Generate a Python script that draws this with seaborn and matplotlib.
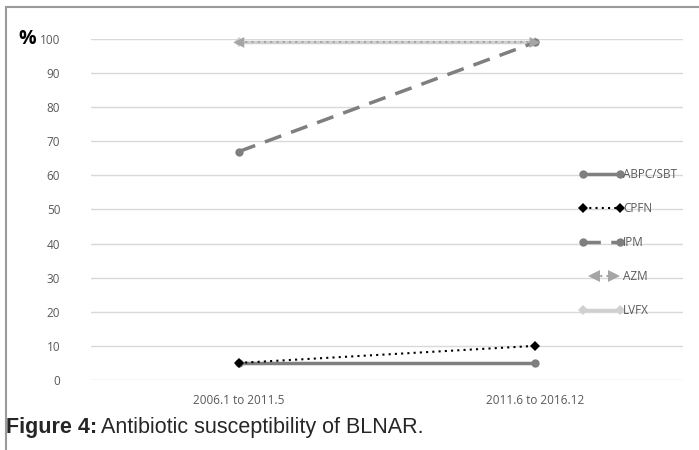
import matplotlib
matplotlib.use("Agg")
import matplotlib.pyplot as plt
from matplotlib.lines import Line2D
from matplotlib.legend_handler import HandlerBase
import seaborn as sns
import pandas as pd

periods = ["2006.1 to 2011.5", "2011.6 to 2016.12"]
abpc_sbt = [5, 5]
cpfn = [5, 10]
ipm = [67, 99]
azm = [99, 99]
lvfx = [99, 99]
yticks = [0, 10, 20, 30, 40, 50, 60, 70, 80, 90, 100]
series_names = ["ABPC/SBT", "CPFN", "IPM", "AZM", "LVFX"]

sns.set_theme(style="white")
plt.rcParams['font.family'] = ['Open Sans', 'DejaVu Sans']

fig = plt.figure(figsize=(6.99, 4.5), dpi=100)
ax = fig.add_axes([0.130, 0.1556, 0.847, 0.7577])

tick_col = "#595959"
grid_col = "#d9d9d9"

for y in yticks:
    ax.axhline(y, color=grid_col, lw=1, zorder=0)

c_abpc = "#7f7f7f"
c_cpfn = "#000000"
c_ipm = "#7f7f7f"
c_azm = "#a5a5a5"
c_lvfx = "#d0d0d0"

df = lambda v: pd.DataFrame({"x": periods, "y": v})

sns.lineplot(data=df(lvfx), x="x", y="y", ax=ax, color=c_lvfx, lw=2.5,
             marker="D", markersize=5, markeredgewidth=0, clip_on=False, zorder=3)
sns.lineplot(data=df(azm), x="x", y="y", ax=ax, color=c_azm, lw=1.5,
             linestyle=(0, (1, 2)), clip_on=False, zorder=4)
azm_df = df(azm).assign(m=["l", "r"])
sns.scatterplot(data=azm_df, x="x", y="y", style="m", markers={"l": "<", "r": ">"},
                ax=ax, color=c_azm, s=60, linewidth=0, legend=False, clip_on=False, zorder=4)
sns.lineplot(data=df(ipm), x="x", y="y", ax=ax, color=c_ipm, lw=2.5,
             linestyle=(0, (5, 3)), marker="o", markersize=6, markeredgewidth=0,
             clip_on=False, zorder=3)
sns.lineplot(data=df(abpc_sbt), x="x", y="y", ax=ax, color=c_abpc, lw=2.5,
             marker="o", markersize=6, markeredgewidth=0, clip_on=False, zorder=3)
sns.lineplot(data=df(cpfn), x="x", y="y", ax=ax, color=c_cpfn, lw=1.5,
             linestyle=(0, (1, 2)), marker="D", markersize=5, markeredgewidth=0,
             clip_on=False, zorder=5)

ax.set_xlim(-0.5, 1.5)
ax.set_ylim(0, 100)
ax.set_yticks(yticks)
ax.set_yticklabels([str(v) for v in yticks], color=tick_col, fontsize=8.5)
ax.tick_params(axis="y", length=0, pad=22)
ax.tick_params(axis="x", length=0, pad=10, labelsize=8.5, labelcolor=tick_col)
ax.set_xlabel("")
ax.set_ylabel("")
for s in ax.spines.values():
    s.set_visible(False)
ax.grid(False)


class HandlerAZM(HandlerBase):
    def create_artists(self, legend, orig_handle, xdescent, ydescent, width,
                       height, fontsize, trans):
        y = height / 2 - ydescent
        x0 = -xdescent
        a, b = x0 + width * 0.33, x0 + width * 0.78
        line = Line2D([a, b], [y, y], color=c_azm, lw=1.5, linestyle=(0, (1, 2)),
                      transform=trans)
        ml = Line2D([a], [y], color=c_azm, lw=0, marker="<", markersize=8,
                    markeredgewidth=0, transform=trans)
        mr = Line2D([b], [y], color=c_azm, lw=0, marker=">", markersize=8,
                    markeredgewidth=0, transform=trans)
        return [line, ml, mr]


h_abpc = Line2D([], [], color=c_abpc, lw=2.5, marker="o", markersize=6, markeredgewidth=0)
h_cpfn = Line2D([], [], color=c_cpfn, lw=1.5, linestyle=(0, (1, 2)), marker="D",
                markersize=5, markeredgewidth=0)
h_ipm = Line2D([], [], color=c_ipm, lw=2.5, linestyle=(0, (5, 3)), marker="o",
               markersize=6, markeredgewidth=0)
h_azm = Line2D([], [], color=c_azm)
h_lvfx = Line2D([], [], color=c_lvfx, lw=2.5, marker="D", markersize=5, markeredgewidth=0)

leg = ax.legend([h_abpc, h_cpfn, h_ipm, h_azm, h_lvfx], series_names,
                handler_map={h_azm: HandlerAZM()},
                loc="upper left", bbox_to_anchor=(0.829, 0.626),
                bbox_transform=fig.transFigure, frameon=False,
                numpoints=2, handlelength=3.7, handletextpad=0.0,
                labelspacing=1.78, fontsize=8.5, borderaxespad=0, borderpad=0)
for t in leg.get_texts():
    t.set_color(tick_col)

fig.text(0.027, 0.913, "%", fontsize=14, fontweight="bold", color="black",
         va="center", ha="left")

cap_family = ["Liberation Sans", "DejaVu Sans"]
cap_size = 15.5
t1 = fig.text(0.008, 0.049, "Figure 4:", fontsize=cap_size, fontweight="bold",
              family=cap_family, va="center", ha="left")
fig.canvas.draw()
r = fig.canvas.get_renderer()
bb = t1.get_window_extent(renderer=r)
x2 = (bb.x1 + 4) / fig.bbox.width
fig.text(x2, 0.049, "Antibiotic susceptibility of BLNAR.", fontsize=cap_size,
         family=cap_family, va="center", ha="left")

fig.add_artist(Line2D([0.0086, 0.0086], [0.0, 0.985], transform=fig.transFigure,
                      color="#9a9a9a", lw=1.5))
fig.add_artist(Line2D([0.0086, 1.0], [0.985, 0.985], transform=fig.transFigure,
                      color="#9a9a9a", lw=1.5))

fig.savefig("out.png", dpi=100)
